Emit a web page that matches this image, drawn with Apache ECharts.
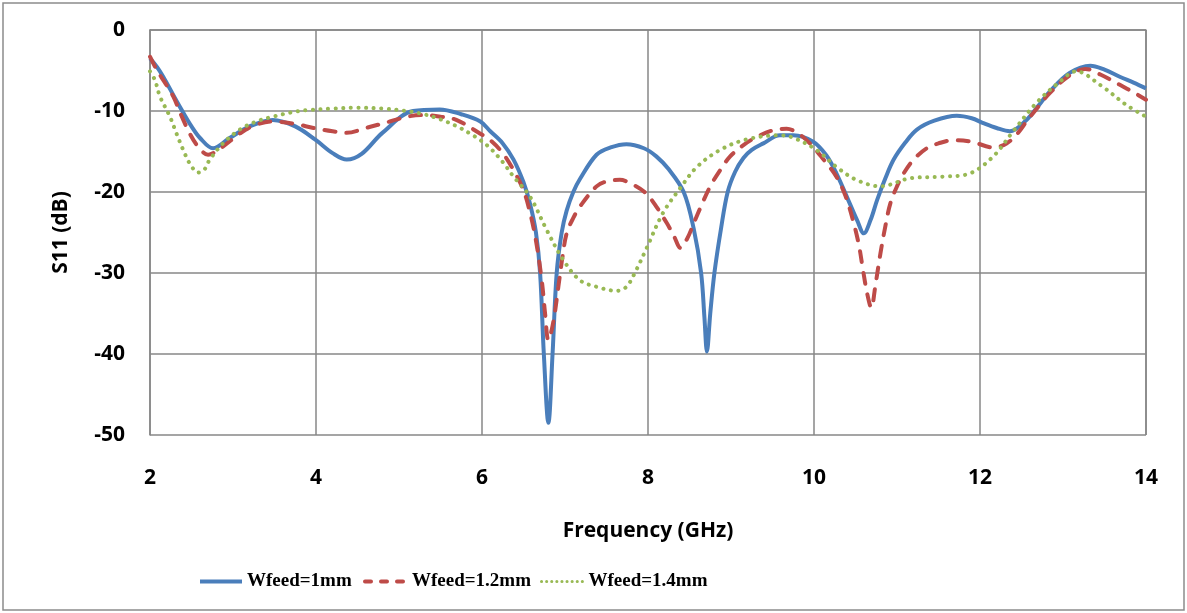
<!DOCTYPE html>
<html>
<head>
<meta charset="utf-8">
<title>S11 vs Frequency</title>
<script src="https://cdn.jsdelivr.net/npm/echarts@6/dist/echarts.min.js"></script>
<style>
  html, body { margin: 0; padding: 0; background: #fff; }
  #chart { width: 1187px; height: 613px; }
</style>
</head>
<body>
<div id="chart"></div>
<script>
// Return loss S11 (dB) against frequency (GHz) for three feed-line widths
const seriesNames = ['Wfeed=1mm', 'Wfeed=1.2mm', 'Wfeed=1.4mm'];
const xTicks = { min: 2, max: 14, step: 2 };
const yTicks = { min: -50, max: 0, step: 10 };

const freq1 = [2.0,2.1,2.2,2.3,2.4,2.5,2.6,2.76,2.95,3.2,3.48,3.75,4.0,4.2,4.37,4.55,4.8,5.17,5.49,5.75,5.98,6.1,6.25,6.38,6.5,6.58,6.65,6.70,6.745,6.80,6.85,6.90,6.96,7.02,7.10,7.18,7.38,7.55,7.74,7.95,8.10,8.25,8.43,8.55,8.64,8.68,8.71,8.75,8.80,8.88,8.96,9.05,9.15,9.25,9.39,9.59,9.75,9.99,10.15,10.27,10.43,10.52,10.60,10.68,10.76,10.86,10.96,11.1,11.24,11.45,11.72,11.9,12.04,12.2,12.36,12.56,12.7,12.84,13.08,13.33,13.5,13.69,13.85,14.0];
const s11_1 = [-3.5,-4.8,-6.5,-8.4,-10.2,-11.9,-13.3,-14.6,-13.4,-11.9,-11.1,-11.9,-13.6,-15.2,-16.0,-15.3,-12.7,-10.0,-9.8,-10.4,-11.3,-12.5,-14.0,-16.0,-18.8,-21.5,-25.0,-30.0,-40.0,-48.5,-40.0,-30.0,-25.0,-22.3,-20.0,-18.4,-15.4,-14.5,-14.1,-14.6,-15.6,-17.2,-20.0,-24.5,-30.0,-35.5,-39.7,-35.0,-30.0,-24.5,-20.0,-17.5,-15.8,-14.8,-14.0,-13.0,-13.0,-13.8,-15.5,-17.7,-21.4,-23.5,-25.1,-23.5,-21.0,-18.3,-16.0,-13.9,-12.3,-11.2,-10.6,-10.9,-11.5,-12.1,-12.5,-11.1,-9.4,-7.6,-5.3,-4.4,-4.9,-5.8,-6.5,-7.2];

const freq2 = [2.0,2.08,2.18,2.28,2.38,2.48,2.58,2.70,2.85,3.08,3.25,3.48,3.75,3.97,4.2,4.37,4.6,4.89,5.1,5.29,5.5,5.69,5.98,6.1,6.25,6.38,6.5,6.58,6.65,6.72,6.76,6.80,6.86,6.92,6.97,7.02,7.1,7.18,7.38,7.50,7.66,7.82,7.98,8.1,8.23,8.32,8.39,8.47,8.55,8.65,8.75,8.87,8.99,9.15,9.31,9.50,9.67,9.80,9.95,10.1,10.27,10.38,10.47,10.54,10.59,10.64,10.69,10.74,10.80,10.86,10.92,11.0,11.08,11.2,11.36,11.5,11.68,11.9,12.16,12.32,12.45,12.56,12.7,12.84,13.08,13.27,13.45,13.69,13.85,14.0];
const s11_2 = [-3.3,-4.9,-6.5,-8.2,-10.6,-12.8,-14.4,-15.4,-14.6,-12.8,-11.8,-11.3,-11.6,-12.1,-12.5,-12.7,-12.1,-11.3,-10.7,-10.5,-10.7,-11.1,-12.8,-13.6,-15.2,-17.3,-19.8,-22.6,-26.0,-30.9,-35.0,-38.3,-36.0,-31.7,-28.0,-25.1,-23.2,-21.8,-19.3,-18.7,-18.5,-19.1,-20.2,-21.8,-23.9,-25.6,-26.9,-25.8,-23.9,-21.5,-19.3,-17.3,-15.6,-14.2,-13.2,-12.4,-12.2,-12.7,-14.0,-15.8,-18.1,-20.5,-23.5,-26.5,-29.6,-32.5,-34.3,-31.5,-27.6,-24.2,-21.4,-19.3,-17.7,-16.0,-14.6,-14.0,-13.6,-13.8,-14.5,-14.0,-12.8,-11.3,-9.5,-7.8,-5.6,-4.8,-5.5,-6.8,-7.7,-8.6];

const freq3 = [2.0,2.06,2.12,2.24,2.32,2.40,2.48,2.58,2.65,2.72,2.88,3.08,3.28,3.48,3.69,3.89,4.2,4.49,4.8,5.09,5.30,5.49,5.7,5.89,5.98,6.1,6.25,6.38,6.58,6.78,6.98,7.18,7.38,7.62,7.74,7.86,7.98,8.18,8.39,8.59,8.87,9.19,9.59,9.75,10.03,10.27,10.51,10.80,11.16,11.56,11.88,12.16,12.40,12.68,12.96,13.16,13.45,13.77,14.0];
const s11_3 = [-5.1,-6.2,-8.2,-10.7,-12.8,-14.8,-16.5,-17.6,-17.3,-16.0,-14.0,-12.3,-11.3,-10.7,-10.2,-9.9,-9.7,-9.6,-9.7,-10.0,-10.4,-11.0,-11.9,-13.0,-13.6,-14.6,-16.3,-18.1,-20.6,-24.7,-28.4,-30.9,-31.7,-32.2,-31.7,-29.6,-27.0,-22.6,-19.5,-16.9,-14.8,-13.5,-13.0,-13.3,-14.8,-16.9,-18.5,-19.3,-18.3,-18.1,-17.7,-15.6,-12.5,-9.0,-6.4,-5.1,-6.8,-9.3,-10.7];

const pairs = (xs, ys) => xs.map((x, i) => [x, ys[i]]);

const gridColor = '#878787';
const axisFont = { fontFamily: 'Open Sans', fontWeight: 'bold', fontSize: 21, color: '#000' };
const legendFont = { fontFamily: 'Liberation Serif', fontWeight: 'bold', fontSize: 19, color: '#000' };

const chart = echarts.init(document.getElementById('chart'), null, { renderer: 'canvas' });

const styles = [
  { color: '#4A7EBB', line: { width: 4, type: 'solid' },
    legendLine: { width: 4, type: 'solid' } },
  { color: '#BE4B48', line: { width: 4, type: [11, 11], cap: 'round' },
    legendLine: { width: 4, type: [6, 10], cap: 'round' } },
  { color: '#98B954', line: { width: 4, type: [0.1, 7.5], cap: 'round' },
    legendLine: { width: 3, type: [0.1, 5], cap: 'round' } }
];
const dataSets = [pairs(freq1, s11_1), pairs(freq2, s11_2), pairs(freq3, s11_3)];

const lineSeries = seriesNames.map((name, i) => ({
  type: 'line',
  name: name,
  data: dataSets[i],
  smooth: 0.35,
  showSymbol: false,
  symbol: 'none',
  animation: false,
  itemStyle: { color: styles[i].color },
  lineStyle: Object.assign({ color: styles[i].color }, styles[i].line)
}));

const legendLefts = [193, 358, 535];

chart.setOption({
  animation: false,
  backgroundColor: '#fff',
  grid: { left: 150, right: 41, top: 30, bottom: 178, containLabel: false },
  xAxis: {
    type: 'value',
    min: xTicks.min, max: xTicks.max, interval: xTicks.step,
    name: 'Frequency (GHz)',
    nameLocation: 'middle',
    nameGap: 86,
    nameTextStyle: axisFont,
    axisLine: { show: true, lineStyle: { color: gridColor, width: 1.5 } },
    axisTick: { show: false },
    axisLabel: Object.assign({ margin: 33 }, axisFont),
    splitLine: { show: true, lineStyle: { color: gridColor, width: 1.5 } }
  },
  yAxis: {
    type: 'value',
    min: yTicks.min, max: yTicks.max, interval: yTicks.step,
    name: 'S11 (dB)',
    nameLocation: 'middle',
    nameGap: 78,
    nameTextStyle: axisFont,
    axisLine: { show: true, lineStyle: { color: gridColor, width: 1.5 } },
    axisTick: { show: false },
    axisLabel: Object.assign({ margin: 25 }, axisFont),
    splitLine: { show: true, lineStyle: { color: gridColor, width: 1.5 } }
  },
  legend: seriesNames.map((n, i) => ({
    data: [n],
    left: legendLefts[i],
    top: 567,
    itemWidth: 42,
    itemHeight: 14,
    itemGap: 5,
    itemStyle: { opacity: 0 },
    lineStyle: Object.assign({ color: styles[i].color }, styles[i].legendLine),
    textStyle: legendFont
  })),
  graphic: [
    {
      type: 'rect',
      shape: { x: 3, y: 3, width: 1181, height: 607 },
      style: { fill: 'none', stroke: '#8c8c8c', lineWidth: 1.5 },
      silent: true,
      z: -1
    },
    {
      type: 'line',
      shape: { x1: 1146, y1: 30, x2: 1146, y2: 435 },
      style: { stroke: gridColor, lineWidth: 1.5 },
      silent: true
    }
  ],
  series: lineSeries
});
</script>
</body>
</html>
